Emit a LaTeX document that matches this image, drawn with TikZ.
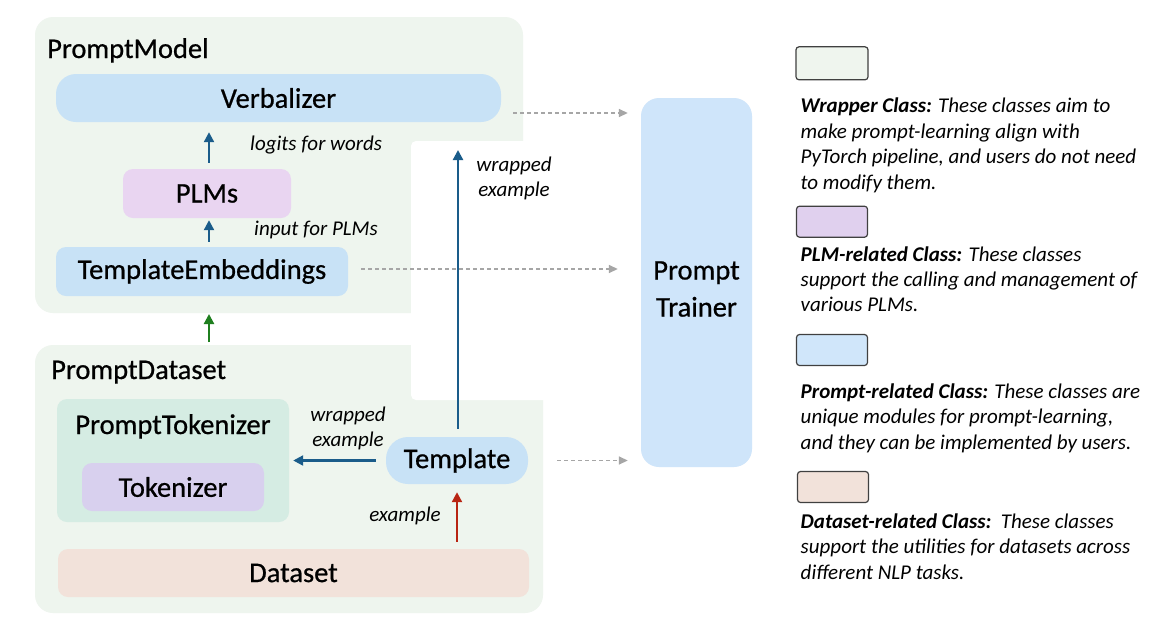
\documentclass[tikz,border=0pt]{standalone}
\usepackage{fontspec}
\setmainfont{Carlito}
\newfontfamily\lblfont{Carlito}[FakeBold=0.7]
\usetikzlibrary{arrows.meta,calc}
\definecolor{contfill}{HTML}{EEF5EE}
\definecolor{promptblue}{HTML}{C8E2F6}
\definecolor{trainerblue}{HTML}{CFE5FA}
\definecolor{plmpink}{HTML}{E9D5F1}
\definecolor{tokpurple}{HTML}{D8D0EE}
\definecolor{ptteal}{HTML}{D5ECE3}
\definecolor{dataorange}{HTML}{F2E2DA}
\definecolor{darkblue}{HTML}{1A5C8A}
\definecolor{darkred}{HTML}{B82412}
\definecolor{darkgreen}{HTML}{1F7F1F}
\definecolor{dashgray}{HTML}{A6A6A6}
\definecolor{legborder}{HTML}{404040}
\definecolor{legwrap}{HTML}{EFF5EE}
\definecolor{legplm}{HTML}{E0D0EE}
\definecolor{legprompt}{HTML}{D0E6FA}
\definecolor{legdata}{HTML}{F2E2DA}
\begin{document}
\begin{tikzpicture}[x=1pt,y=-1pt,
  box/.style={draw=none, inner sep=0pt, font=\lblfont\fontsize{28.5}{34}\selectfont, text=black},
  lbl/.style={inner sep=0pt, font=\lblfont\fontsize{28.5}{34}\selectfont, text=black},
  itlbl/.style={inner sep=0pt, font=\fontsize{21}{25}\selectfont\itshape, text=black, align=center},
  legline/.style={inner sep=0pt, anchor=base west, font=\fontsize{21}{24}\selectfont\itshape, text=black},
  legbox/.style={draw=legborder, line width=1.2pt, rounded corners=3pt, minimum width=71pt, minimum height=31pt, inner sep=0pt},
  darr/.style={draw=darkblue, line width=2.2pt, -{Triangle[width=10pt,length=10pt]}},
  rarr/.style={draw=darkred, line width=2.2pt, -{Triangle[width=10pt,length=10pt]}},
  garr/.style={draw=darkgreen, line width=2.2pt, -{Triangle[width=10pt,length=10pt]}},
  dasharr/.style={draw=dashgray, line width=1.6pt, dash pattern=on 4pt off 3pt, -{Triangle[width=8pt,length=9pt]}}
]
\useasboundingbox (0,0) rectangle (1170,630);
\fill[white] (0,0) rectangle (1170,630);
% containers
\fill[contfill, rounded corners=18pt] (35,17) rectangle (523,313);
\fill[contfill, rounded corners=18pt] (35,345) rectangle (543,613);
\fill[white, rounded corners=5pt] (411,141) rectangle (620,400);
\node[lbl, anchor=base west] (pmlabel) at (47,58) {PromptModel};
\node[lbl, anchor=base west] (pdlabel) at (51,379) {PromptDataset};
% PromptModel nodes
\node[box, fill=promptblue, rounded corners=20pt, minimum width=445pt, minimum height=48pt] (verb) at (278.5,98) {Verbalizer};
\node[box, fill=plmpink, rounded corners=10pt, minimum width=168pt, minimum height=49pt] (plms) at (207,193.5) {PLMs};
\node[box, fill=promptblue, rounded corners=10pt, minimum width=292pt, minimum height=49pt] (te) at (202,271.5) {TemplateEmbeddings};
% PromptDataset nodes
\node[draw=none, fill=ptteal, rounded corners=10pt, minimum width=232pt, minimum height=123pt, inner sep=0pt] (pt) at (173,460.5) {};
\node[lbl, anchor=base] (ptlabel) at (173,434) {PromptTokenizer};
\node[box, fill=tokpurple, rounded corners=10pt, minimum width=182pt, minimum height=48pt] (tok) at (173,487) {Tokenizer};
\node[box, fill=promptblue, rounded corners=22pt, minimum width=142pt, minimum height=47pt] (tpl) at (457,460.5) {Template};
\node[box, fill=dataorange, rounded corners=10pt, minimum width=471pt, minimum height=48pt] (ds) at (293.5,573) {Dataset};
% trainer
\node[draw=none, fill=trainerblue, rounded corners=18pt, minimum width=111pt, minimum height=369pt, inner sep=0pt] (trainer) at (696.5,282.5) {};
\node[lbl, align=center, font=\lblfont\fontsize{28.5}{37}\selectfont] (trainertext) at (696.5,289) {Prompt\\Trainer};
% coordinates
\coordinate (pmbot) at (209,314);
\coordinate (pdtop) at (209,342);
\coordinate (wtop) at (458,150);
\coordinate (vdash) at (513,113);
% arrows
\draw[darr, shorten <=6pt, shorten >=10pt] (plms.north -| 209,0) -- (verb.south -| 209,0);
\draw[darr, shorten <=5pt, shorten >=2pt] (te.north -| 209,0) -- (plms.south -| 209,0);
\draw[garr] (pdtop) -- (pmbot);
\draw[darr, shorten <=8pt] (tpl.north -| wtop) -- (wtop);
\draw[darr, shorten <=10pt, shorten >=4pt] (tpl.west) -- (pt.east |- tpl.west);
\draw[rarr, shorten <=7pt, shorten >=8pt] (ds.north -| tpl.south) -- (tpl.south);
\draw[dasharr, shorten >=13pt] (vdash) -- (vdash -| trainer.west);
\draw[dasharr, shorten <=13pt, shorten >=23pt] ($(te.east)+(0,-2.5)$) -- ($(te.east -| trainer.west)+(0,-2.5)$);
\draw[dasharr, shorten <=29pt, shorten >=13pt] (tpl.east) -- (tpl.east -| trainer.west);
% arrow labels
\node[itlbl, anchor=west] (lgl) at (250,145) {logits for words};
\node[itlbl, anchor=west] (inl) at (254,230) {input for PLMs};
\node[itlbl] (wel1) at (514,178) {wrapped\\example};
\node[itlbl] (wel2) at (348,428) {wrapped\\example};
\node[itlbl] (exl) at (405,516) {example};
% legend
\node[legbox, fill=legwrap, minimum height=33pt, minimum width=72pt] (lb1) at (832,63.3) {};
\node[legbox, fill=legplm] (lb2) at (832,221.7) {};
\node[legbox, fill=legprompt] (lb3) at (832,350) {};
\node[legbox, fill=legdata] (lb4) at (833,487) {};
\node[legline] (l11) at (800.5,112.7) {\textbf{Wrapper Class:} These classes aim to};
\node[legline] (l12) at (800.5,138) {make prompt-learning align with};
\node[legline] (l13) at (800.5,163.5) {PyTorch pipeline, and users do not need};
\node[legline] (l14) at (800.5,189) {to modify them.};
\node[legline] (l21) at (800.5,261.5) {\textbf{PLM-related Class:} These classes};
\node[legline] (l22) at (800.5,286.5) {support the calling and management of};
\node[legline] (l23) at (800.5,311.5) {various PLMs.};
\node[legline] (l31) at (800.5,398) {\textbf{Prompt-related Class:} These classes are};
\node[legline] (l32) at (800.5,423.5) {unique modules for prompt-learning,};
\node[legline] (l33) at (800.5,449) {and they can be implemented by users.};
\node[legline] (l41) at (800.5,528) {\textbf{Dataset-related Class:}\ \ These classes};
\node[legline] (l42) at (800.5,553.5) {support the utilities for datasets across};
\node[legline] (l43) at (800.5,579) {different NLP tasks.};
\end{tikzpicture}
\end{document}
